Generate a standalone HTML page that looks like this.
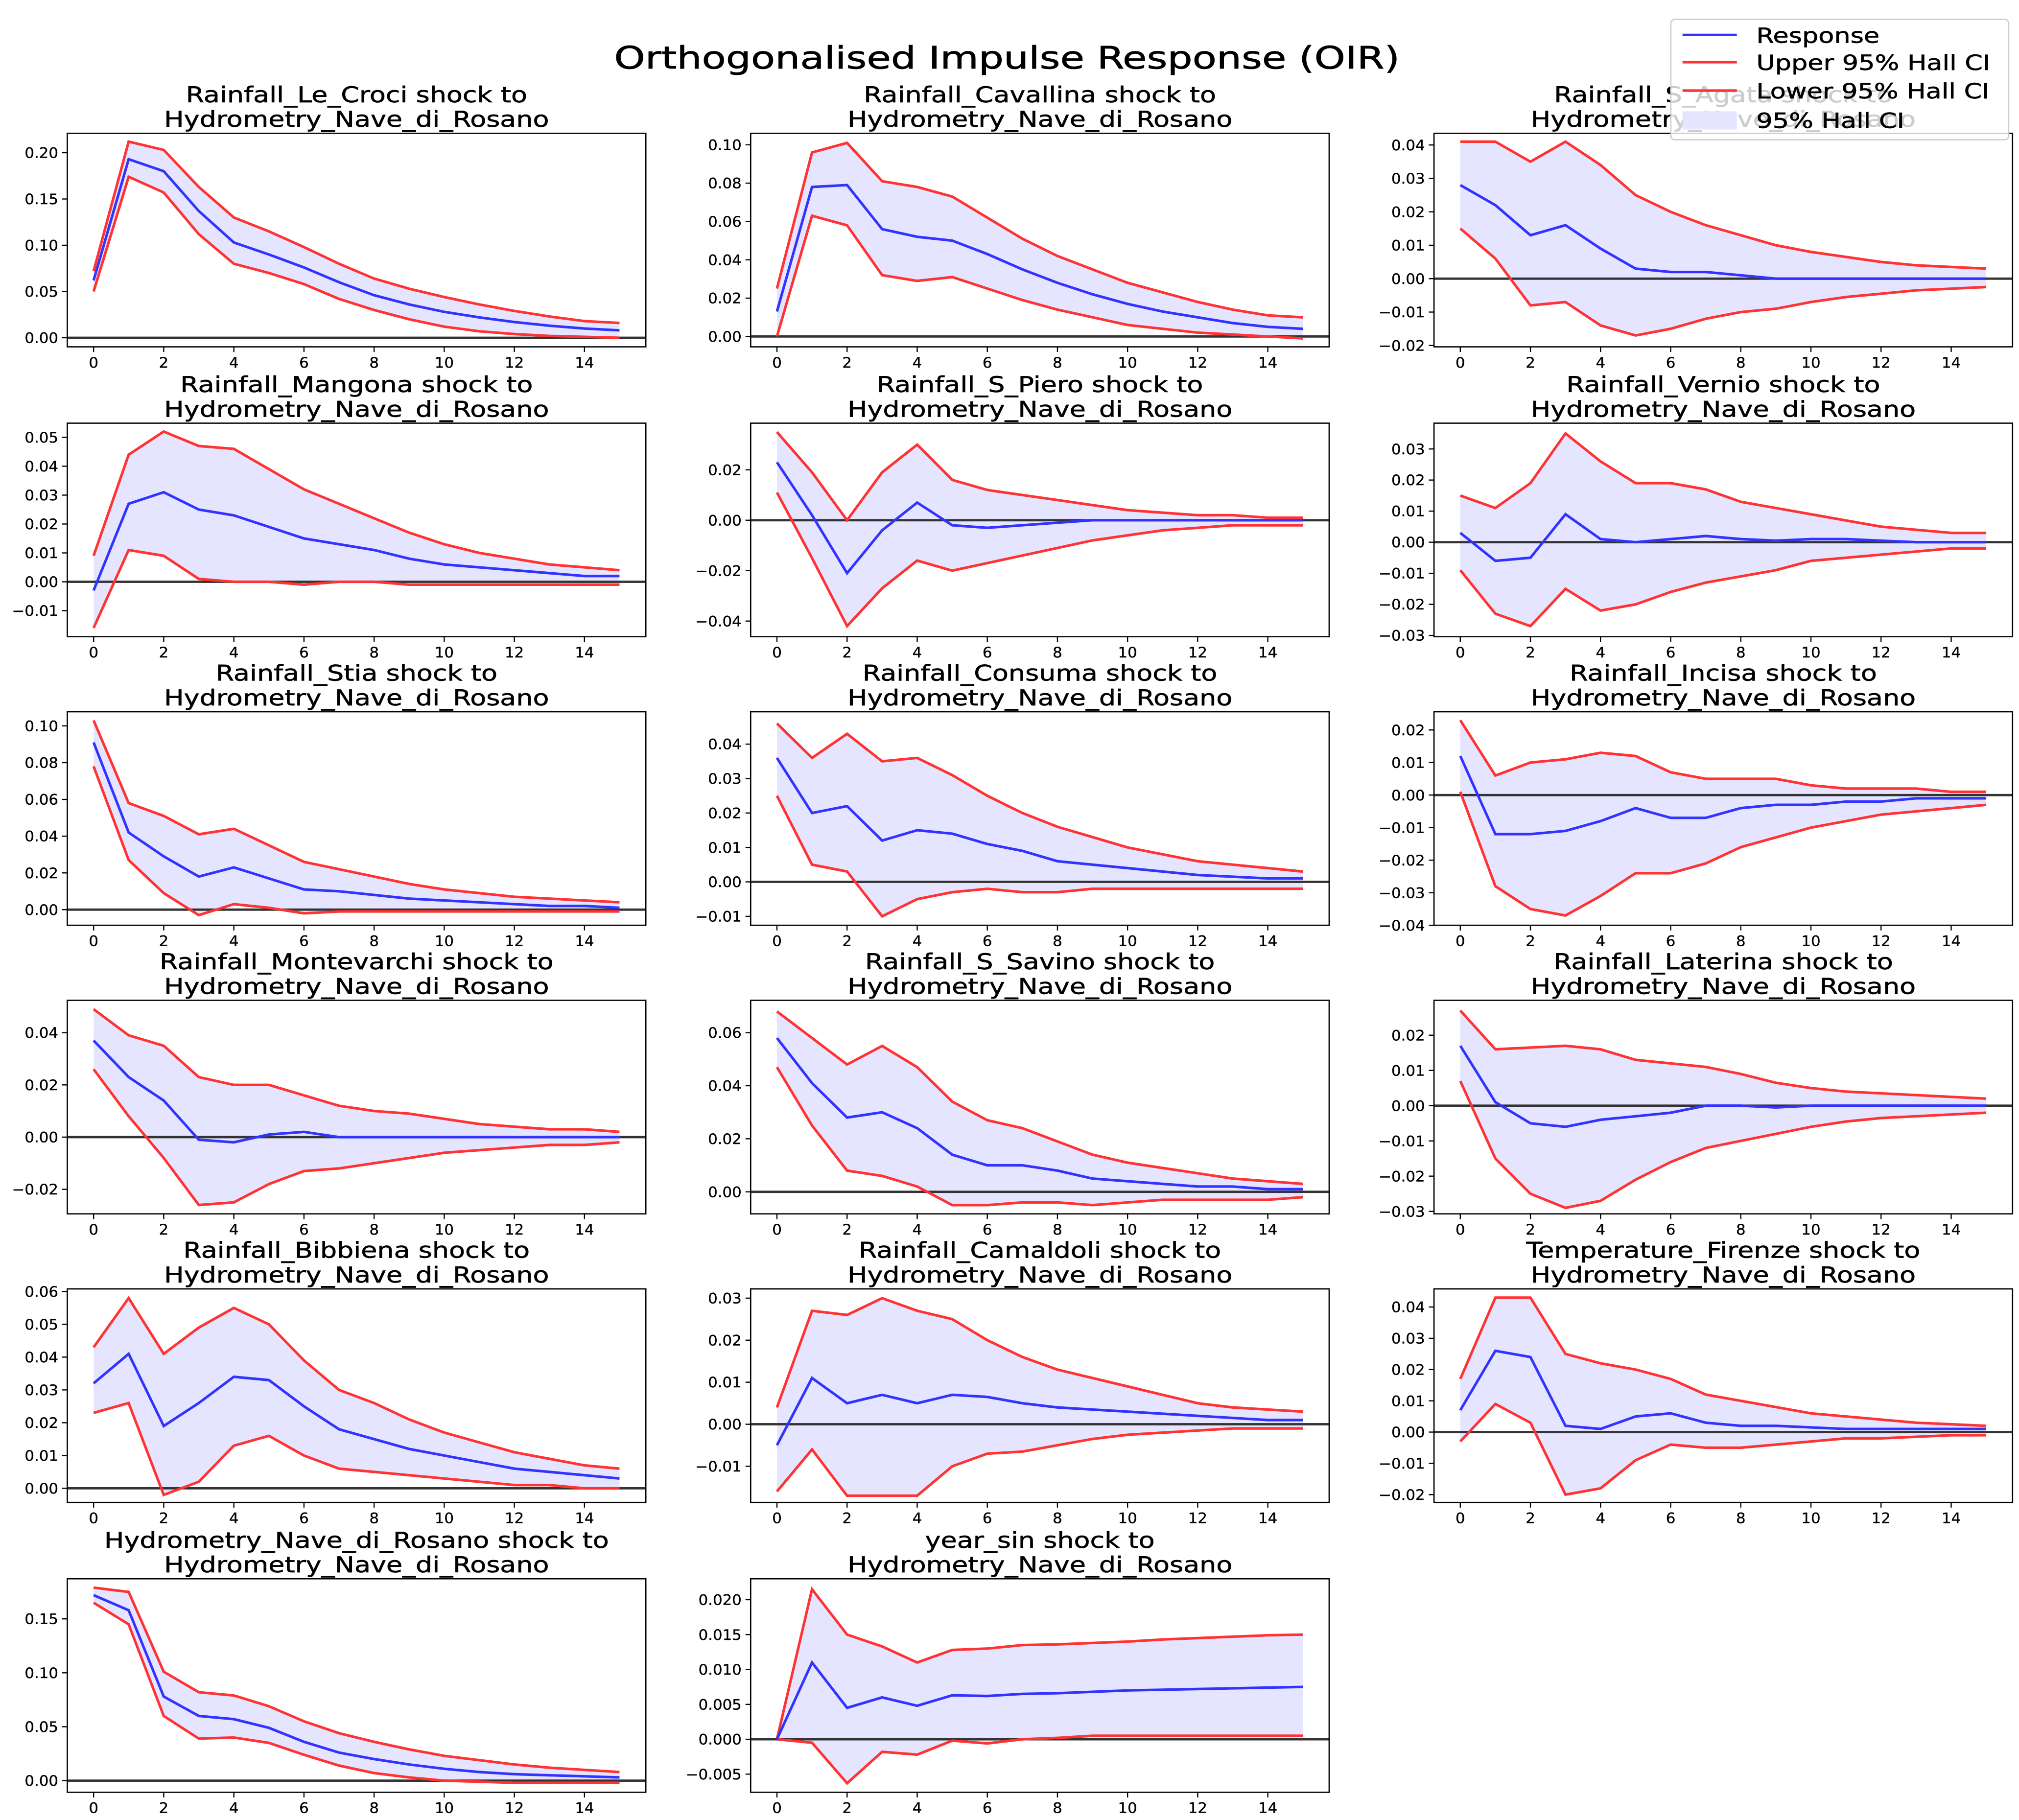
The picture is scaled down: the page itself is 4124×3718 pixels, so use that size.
<!DOCTYPE html>
<html><head><meta charset="utf-8">
<style>
html,body{margin:0;padding:0;background:#fff;}
svg{display:block;font-family:"DejaVu Sans","Liberation Sans",sans-serif;}
</style></head>
<body>
<svg id="chart" xmlns="http://www.w3.org/2000/svg" width="4124" height="3718" viewBox="0 0 1560 1406.4">
<rect x="0" y="0" width="1560" height="1406.4" fill="#fff"/>
<text transform="translate(778,53) scale(1.27,1)" x="0" y="0" text-anchor="middle" font-size="24" fill="#000" stroke="#000" stroke-width="0.3">Orthogonalised Impulse Response (OIR)</text>
<g id="panels"></g>
<g>
<rect x="1291" y="15" width="261" height="93" fill="#fff" fill-opacity="0.8" stroke="#ccc" stroke-width="1" rx="3"/>
<line x1="1300" y1="27" x2="1342" y2="27" stroke="#3333ff" stroke-width="2"/>
<text transform="translate(1357,33) scale(1.24,1)" font-size="16" stroke="#000" stroke-width="0.25">Response</text>
<line x1="1300" y1="48" x2="1342" y2="48" stroke="#ff3333" stroke-width="2"/>
<text transform="translate(1357,54) scale(1.24,1)" font-size="16" stroke="#000" stroke-width="0.25">Upper 95% Hall CI</text>
<line x1="1300" y1="70" x2="1342" y2="70" stroke="#ff3333" stroke-width="2"/>
<text transform="translate(1357,76) scale(1.24,1)" font-size="16" stroke="#000" stroke-width="0.25">Lower 95% Hall CI</text>
<rect x="1300" y="86" width="42" height="14" fill="#e5e5ff"/>
<text transform="translate(1357,99) scale(1.24,1)" font-size="16" stroke="#000" stroke-width="0.25">95% Hall CI</text>
</g>
</svg>
<script>
const shockNames = ["Rainfall_Le_Croci","Rainfall_Cavallina","Rainfall_S_Agata","Rainfall_Mangona","Rainfall_S_Piero","Rainfall_Vernio","Rainfall_Stia","Rainfall_Consuma","Rainfall_Incisa","Rainfall_Montevarchi","Rainfall_S_Savino","Rainfall_Laterina","Rainfall_Bibbiena","Rainfall_Camaldoli","Temperature_Firenze","Hydrometry_Nave_di_Rosano","year_sin"];
const yLimits = [[-0.0098,0.221],[-0.0054,0.106],[-0.0204,0.0435],[-0.019,0.0549],[-0.0462,0.0385],[-0.0304,0.0383],[-0.0085,0.1077],[-0.0126,0.0494],[-0.04,0.0256],[-0.0294,0.0524],[-0.0083,0.0722],[-0.0307,0.0299],[-0.0043,0.0608],[-0.0186,0.0322],[-0.0225,0.0458],[-0.0108,0.1872],[-0.0076,0.023]];
const yTicks = [[0,0.05,0.1,0.15,0.2],[0,0.02,0.04,0.06,0.08,0.1],[-0.02,-0.01,0,0.01,0.02,0.03,0.04],[-0.01,0,0.01,0.02,0.03,0.04,0.05],[-0.04,-0.02,0,0.02],[-0.03,-0.02,-0.01,0,0.01,0.02,0.03],[0,0.02,0.04,0.06,0.08,0.1],[-0.01,0,0.01,0.02,0.03,0.04],[-0.04,-0.03,-0.02,-0.01,0,0.01,0.02],[-0.02,0,0.02,0.04],[0,0.02,0.04,0.06],[-0.03,-0.02,-0.01,0,0.01,0.02],[0,0.01,0.02,0.03,0.04,0.05,0.06],[-0.01,0,0.01,0.02,0.03],[-0.02,-0.01,0,0.01,0.02,0.03,0.04],[0,0.05,0.1,0.15],[-0.005,0,0.005,0.01,0.015,0.02]];
const yTickDecimals = [2,2,2,2,2,2,2,2,2,2,2,2,2,2,2,2,3];
const xTicks = [0,2,4,6,8,10,12,14];
const response = [
[0.062,0.193,0.180,0.137,0.103,0.090,0.076,0.060,0.046,0.036,0.028,0.022,0.017,0.013,0.010,0.008],
[0.013,0.078,0.079,0.056,0.052,0.050,0.043,0.035,0.028,0.022,0.017,0.013,0.010,0.007,0.005,0.004],
[0.028,0.022,0.013,0.016,0.009,0.003,0.002,0.002,0.001,0.000,0,0,0,0,0,0],
[-0.003,0.027,0.031,0.025,0.023,0.019,0.015,0.013,0.011,0.008,0.006,0.005,0.004,0.003,0.002,0.002],
[0.023,0.002,-0.021,-0.004,0.007,-0.002,-0.003,-0.002,-0.001,0,0,0,0,0,0,0],
[0.003,-0.006,-0.005,0.009,0.001,0,0.001,0.002,0.001,0.0005,0.001,0.001,0.0005,0,0,0],
[0.091,0.042,0.029,0.018,0.023,0.017,0.011,0.010,0.008,0.006,0.005,0.004,0.003,0.002,0.002,0.001],
[0.036,0.020,0.022,0.012,0.015,0.014,0.011,0.009,0.006,0.005,0.004,0.003,0.002,0.0015,0.001,0.001],
[0.012,-0.012,-0.012,-0.011,-0.008,-0.004,-0.007,-0.007,-0.004,-0.003,-0.003,-0.002,-0.002,-0.001,-0.001,-0.001],
[0.037,0.023,0.014,-0.001,-0.002,0.001,0.002,0,0,0,0,0,0,0,0,0],
[0.058,0.041,0.028,0.030,0.024,0.014,0.010,0.010,0.008,0.005,0.004,0.003,0.002,0.002,0.001,0.001],
[0.017,0.001,-0.005,-0.006,-0.004,-0.003,-0.002,0,0,-0.0005,0,0,0,0,0,0],
[0.032,0.041,0.019,0.026,0.034,0.033,0.025,0.018,0.015,0.012,0.010,0.008,0.006,0.005,0.004,0.003],
[-0.005,0.011,0.005,0.007,0.005,0.007,0.0065,0.005,0.004,0.0035,0.003,0.0025,0.002,0.0015,0.001,0.001],
[0.007,0.026,0.024,0.002,0.001,0.005,0.006,0.003,0.002,0.002,0.0015,0.001,0.001,0.001,0.001,0.001],
[0.172,0.158,0.078,0.060,0.057,0.049,0.036,0.026,0.020,0.015,0.011,0.008,0.006,0.005,0.004,0.003],
[0,0.011,0.0045,0.006,0.0048,0.0063,0.0062,0.0065,0.0066,0.0068,0.007,0.0071,0.0072,0.0073,0.0074,0.0075]];
const upperCI = [
[0.072,0.212,0.203,0.163,0.130,0.115,0.098,0.080,0.064,0.053,0.044,0.036,0.029,0.023,0.018,0.016],
[0.025,0.096,0.101,0.081,0.078,0.073,0.062,0.051,0.042,0.035,0.028,0.023,0.018,0.014,0.011,0.010],
[0.041,0.041,0.035,0.041,0.034,0.025,0.020,0.016,0.013,0.010,0.008,0.0065,0.005,0.004,0.0035,0.003],
[0.009,0.044,0.052,0.047,0.046,0.039,0.032,0.027,0.022,0.017,0.013,0.010,0.008,0.006,0.005,0.004],
[0.035,0.019,0.000,0.019,0.030,0.016,0.012,0.010,0.008,0.006,0.004,0.003,0.002,0.002,0.001,0.001],
[0.015,0.011,0.019,0.035,0.026,0.019,0.019,0.017,0.013,0.011,0.009,0.007,0.005,0.004,0.003,0.003],
[0.103,0.058,0.051,0.041,0.044,0.035,0.026,0.022,0.018,0.014,0.011,0.009,0.007,0.006,0.005,0.004],
[0.046,0.036,0.043,0.035,0.036,0.031,0.025,0.020,0.016,0.013,0.010,0.008,0.006,0.005,0.004,0.003],
[0.023,0.006,0.010,0.011,0.013,0.012,0.007,0.005,0.005,0.005,0.003,0.002,0.002,0.002,0.001,0.001],
[0.049,0.039,0.035,0.023,0.020,0.020,0.016,0.012,0.010,0.009,0.007,0.005,0.004,0.003,0.003,0.002],
[0.068,0.058,0.048,0.055,0.047,0.034,0.027,0.024,0.019,0.014,0.011,0.009,0.007,0.005,0.004,0.003],
[0.027,0.016,0.0165,0.017,0.016,0.013,0.012,0.011,0.009,0.0065,0.005,0.004,0.0035,0.003,0.0025,0.002],
[0.043,0.058,0.041,0.049,0.055,0.050,0.039,0.030,0.026,0.021,0.017,0.014,0.011,0.009,0.007,0.006],
[0.004,0.027,0.026,0.030,0.027,0.025,0.020,0.016,0.013,0.011,0.009,0.007,0.005,0.004,0.0035,0.003],
[0.017,0.043,0.043,0.025,0.022,0.020,0.017,0.012,0.010,0.008,0.006,0.005,0.004,0.003,0.0025,0.002],
[0.179,0.175,0.101,0.082,0.079,0.069,0.055,0.044,0.036,0.029,0.023,0.019,0.015,0.012,0.010,0.008],
[0,0.0215,0.015,0.0133,0.011,0.0128,0.013,0.0135,0.0136,0.0138,0.014,0.0143,0.0145,0.0147,0.0149,0.015]];
const lowerCI = [
[0.050,0.174,0.157,0.112,0.080,0.070,0.058,0.042,0.030,0.020,0.012,0.007,0.004,0.002,0.001,0.000],
[0.000,0.063,0.058,0.032,0.029,0.031,0.025,0.019,0.014,0.010,0.006,0.004,0.002,0.001,0.000,-0.001],
[0.015,0.006,-0.008,-0.007,-0.014,-0.017,-0.015,-0.012,-0.010,-0.009,-0.007,-0.0055,-0.0045,-0.0035,-0.003,-0.0025],
[-0.016,0.011,0.009,0.001,0.000,0.000,-0.001,0.000,0.000,-0.001,-0.001,-0.001,-0.001,-0.001,-0.001,-0.001],
[0.011,-0.015,-0.042,-0.027,-0.016,-0.020,-0.017,-0.014,-0.011,-0.008,-0.006,-0.004,-0.003,-0.002,-0.002,-0.002],
[-0.009,-0.023,-0.027,-0.015,-0.022,-0.020,-0.016,-0.013,-0.011,-0.009,-0.006,-0.005,-0.004,-0.003,-0.002,-0.002],
[0.078,0.027,0.009,-0.003,0.003,0.001,-0.002,-0.001,-0.001,-0.001,-0.001,-0.001,-0.001,-0.001,-0.001,-0.001],
[0.025,0.005,0.003,-0.010,-0.005,-0.003,-0.002,-0.003,-0.003,-0.002,-0.002,-0.002,-0.002,-0.002,-0.002,-0.002],
[0.001,-0.028,-0.035,-0.037,-0.031,-0.024,-0.024,-0.021,-0.016,-0.013,-0.010,-0.008,-0.006,-0.005,-0.004,-0.003],
[0.026,0.008,-0.008,-0.026,-0.025,-0.018,-0.013,-0.012,-0.010,-0.008,-0.006,-0.005,-0.004,-0.003,-0.003,-0.002],
[0.047,0.025,0.008,0.006,0.002,-0.005,-0.005,-0.004,-0.004,-0.005,-0.004,-0.003,-0.003,-0.003,-0.003,-0.002],
[0.007,-0.015,-0.025,-0.029,-0.027,-0.021,-0.016,-0.012,-0.010,-0.008,-0.006,-0.0045,-0.0035,-0.003,-0.0025,-0.002],
[0.023,0.026,-0.002,0.002,0.013,0.016,0.010,0.006,0.005,0.004,0.003,0.002,0.001,0.001,0.000,0.000],
[-0.016,-0.006,-0.017,-0.017,-0.017,-0.010,-0.007,-0.0065,-0.005,-0.0035,-0.0025,-0.002,-0.0015,-0.001,-0.001,-0.001],
[-0.003,0.009,0.003,-0.020,-0.018,-0.009,-0.004,-0.005,-0.005,-0.004,-0.003,-0.002,-0.002,-0.0015,-0.001,-0.001],
[0.165,0.145,0.060,0.039,0.040,0.035,0.024,0.014,0.007,0.003,0.000,-0.001,-0.002,-0.002,-0.002,-0.002],
[0,-0.0005,-0.0063,-0.0018,-0.0022,-0.0002,-0.0006,0.0000,0.0002,0.0005,0.0005,0.0005,0.0005,0.0005,0.0005,0.0005]];

const NS = "http://www.w3.org/2000/svg";
const root = document.getElementById('panels');
const colX = [52,580,1108], rowY = [103,327,550,773,996,1220], W = 447, H = 165;
function mk(tag, attrs, parent){ const e = document.createElementNS(NS, tag); for (const k in attrs) e.setAttribute(k, attrs[k]); parent.appendChild(e); return e; }

shockNames.forEach((name, i) => {
  const x0 = colX[i % 3], y0 = rowY[Math.floor(i / 3)];
  const [ymin, ymax] = yLimits[i];
  const xs = v => x0 + (v + 0.75) / 16.5 * W;
  const ys = v => y0 + H - (v - ymin) / (ymax - ymin) * H;
  const g = mk('g', {}, root);
  
  
  let pts = upperCI[i].map((v, k) => xs(k) + ',' + ys(v));
  pts = pts.concat(lowerCI[i].map((v, k) => xs(k) + ',' + ys(v)).reverse());
  const band = mk('polygon', {points: pts.join(' '), fill: '#e5e5ff', stroke: 'none'}, g);
  
  
  const z = mk('line', {x1: x0, x2: x0 + W, y1: ys(0), y2: ys(0), stroke: '#333', 'stroke-width': 1.8}, g);
  
  
  const series = [[upperCI[i], '#ff3333', 'upper-ci-line'], [lowerCI[i], '#ff3333', 'lower-ci-line'], [response[i], '#3333ff', 'response-line']];
  series.forEach(([arr, col, nm]) => {
    const pl = mk('polyline', {points: arr.map((v, k) => xs(k) + ',' + ys(v)).join(' '), fill: 'none', stroke: col, 'stroke-width': 2}, g);
    
    
  });
  const fr = mk('rect', {x: x0, y: y0, width: W, height: H, fill: 'none', stroke: '#000', 'stroke-width': 1}, g);
  
  
  const t1 = mk('text', {transform: 'translate(' + (x0 + W/2) + ',' + (y0 - 24) + ') scale(1.2,1)', 'text-anchor': 'middle', 'font-size': 17, stroke: '#000', 'stroke-width': 0.25}, g);
  t1.textContent = name + ' shock to';
  
  
  const t2 = mk('text', {transform: 'translate(' + (x0 + W/2) + ',' + (y0 - 5) + ') scale(1.2,1)', 'text-anchor': 'middle', 'font-size': 17, stroke: '#000', 'stroke-width': 0.25}, g);
  t2.textContent = 'Hydrometry_Nave_di_Rosano';
  
  
  xTicks.forEach(v => {
    mk('line', {x1: xs(v), x2: xs(v), y1: y0 + H, y2: y0 + H + 4, stroke: '#000', 'stroke-width': 0.9}, g);
    const tl = mk('text', {transform: 'translate(' + xs(v) + ',' + (y0 + H + 16) + ') scale(1.06,1)', 'text-anchor': 'middle', 'font-size': 11, stroke: '#000', 'stroke-width': 0.15}, g);
    tl.textContent = v;
    
    
  });
  yTicks[i].forEach(v => {
    mk('line', {x1: x0 - 4, x2: x0, y1: ys(v), y2: ys(v), stroke: '#000', 'stroke-width': 0.9}, g);
    const tl = mk('text', {transform: 'translate(' + (x0 - 7) + ',' + (ys(v) + 4) + ') scale(1.06,1)', 'text-anchor': 'end', 'font-size': 11, stroke: '#000', 'stroke-width': 0.15}, g);
    tl.textContent = v.toFixed(yTickDecimals[i]).replace(/^-/, '\u2212');
    
    
  });
});
</script>
</body></html>
